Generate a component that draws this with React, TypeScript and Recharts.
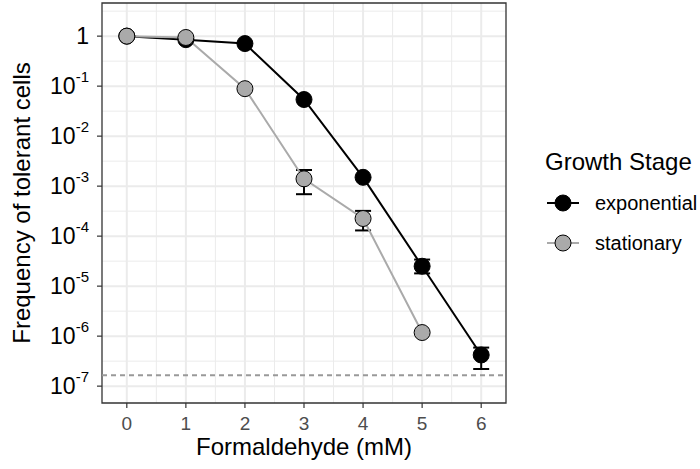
import {
  LineChart,
  Line,
  XAxis,
  YAxis,
  CartesianGrid,
  ReferenceLine,
  ReferenceArea,
  ErrorBar,
} from "recharts";

const doses = [0, 1, 2, 3, 4, 5, 6];

const exponential = [1.0, 0.85, 0.71, 0.054, 1.5e-3, 2.5e-5, 4.2e-7];
const exponentialLow = [null, null, null, null, null, 1.8e-5, 2.2e-7];
const exponentialHigh = [null, null, null, null, null, 3.4e-5, 5.9e-7];

const stationary = [1.0, 0.94, 0.089, 1.4e-3, 2.25e-4, 1.18e-6, null];
const stationaryLow = [null, null, null, 6.9e-4, 1.3e-4, null, null];
const stationaryHigh = [null, null, null, 2.1e-3, 3.2e-4, null, null];

const yMajor = [1, 1e-1, 1e-2, 1e-3, 1e-4, 1e-5, 1e-6, 1e-7];
const yMinor = [3.16, 3.16e-1, 3.16e-2, 3.16e-3, 3.16e-4, 3.16e-5, 3.16e-6, 3.16e-7];
const xMinor = [0.5, 1.5, 2.5, 3.5, 4.5, 5.5];
const detectionLimit = 1.66e-7;

const xDomain = [-0.42, 6.42];
const yDomain = [4.6e-8, 4.6];

const FONT = "'Liberation Sans', Arial, Helvetica, sans-serif";

function errPair(v: number | null, lo: number | null, hi: number | null) {
  if (v == null || lo == null || hi == null) return null;
  return [v - lo, hi - v];
}

const chartData = doses.map((d, i) => ({
  dose: d,
  exponential: exponential[i],
  stationary: stationary[i],
  expErr: errPair(exponential[i], exponentialLow[i], exponentialHigh[i]),
  statErr: errPair(stationary[i], stationaryLow[i], stationaryHigh[i]),
}));

function PowerTick({ x, y, payload }: any) {
  const p = Math.round(Math.log10(payload.value));
  if (p === 0) {
    return (
      <text x={x} y={y} dy={8} textAnchor="end" fill="#000" fontSize={23} fontFamily={FONT}>
        1
      </text>
    );
  }
  return (
    <text x={x} y={y} dy={8} textAnchor="end" fill="#000" fontSize={23} fontFamily={FONT}>
      10
      <tspan dy={-12} fontSize={15}>
        {String(p)}
      </tspan>
    </text>
  );
}

function LegendBox() {
  return (
    <svg
      width={170}
      height={140}
      style={{ position: "absolute", left: 530, top: 130, fontFamily: FONT }}
    >
      <text x={15} y={40} fontSize={24} fill="#000">
        Growth Stage
      </text>
      <line x1={17} x2={49} y1={73} y2={73} stroke="#000" strokeWidth={2} />
      <circle cx={33} cy={73} r={8} fill="#000" stroke="#000" />
      <text x={65} y={80} fontSize={20} fill="#000">
        exponential
      </text>
      <line x1={17} x2={49} y1={113} y2={113} stroke="#aaaaaa" strokeWidth={2} />
      <circle cx={33} cy={113} r={8} fill="#aaaaaa" stroke="#000" />
      <text x={65} y={120} fontSize={20} fill="#000">
        stationary
      </text>
    </svg>
  );
}

export default function App() {
  return (
    <div style={{ position: "absolute", left: 0, top: 0, width: 700, height: 469, background: "#fff" }}>
      <LineChart
        width={700}
        height={469}
        data={chartData}
        margin={{ top: 3, right: 194, left: 0, bottom: 0 }}
        style={{ fontFamily: FONT }}
      >
        <CartesianGrid
          stroke="#ebebeb"
          strokeWidth={1}
          horizontalValues={yMinor}
          verticalValues={xMinor}
        />
        <CartesianGrid stroke="#ebebeb" strokeWidth={2} horizontalValues={yMajor} verticalValues={doses} />
        <XAxis
          dataKey="dose"
          type="number"
          domain={xDomain}
          ticks={doses}
          allowDataOverflow
          height={66}
          axisLine={false}
          tickLine={{ stroke: "#333", strokeWidth: 1.2 }}
          tickSize={5}
          tickMargin={9}
          tick={{ fill: "#4d4d4d", fontSize: 19, fontFamily: FONT }}
          label={{
            value: "Formaldehyde (mM)",
            position: "insideBottom",
            offset: 14,
            style: { fontSize: 24, fill: "#000", fontFamily: FONT },
          }}
        />
        <YAxis
          type="number"
          scale="log"
          domain={yDomain}
          ticks={yMajor}
          allowDataOverflow
          width={102}
          axisLine={false}
          tickLine={{ stroke: "#333", strokeWidth: 1.2 }}
          tickSize={5}
          tickMargin={8}
          tick={<PowerTick />}
          label={{
            value: "Frequency of tolerant cells",
            angle: -90,
            position: "insideLeft",
            offset: 21,
            style: { fontSize: 24, fill: "#000", textAnchor: "middle", fontFamily: FONT },
          }}
        />
        <ReferenceLine
          y={detectionLimit}
          stroke="#999"
          strokeWidth={2}
          strokeDasharray="5 4"
        />
        <ReferenceArea
          x1={xDomain[0]}
          x2={xDomain[1]}
          y1={yDomain[0]}
          y2={yDomain[1]}
          fill="none"
          stroke="#333"
          strokeWidth={1.3}
          ifOverflow="visible"
        />
        <Line
          dataKey="exponential"
          stroke="#000"
          strokeWidth={2}
          dot={{ r: 8, fill: "#000", stroke: "#000", strokeWidth: 1 }}
          activeDot={false}
          isAnimationActive={false}
        >
          <ErrorBar dataKey="expErr" direction="y" width={8} stroke="#000" strokeWidth={2} />
        </Line>
        <Line
          dataKey="stationary"
          stroke="#aaaaaa"
          strokeWidth={2}
          dot={{ r: 8, fill: "#aaaaaa", stroke: "#000", strokeWidth: 1 }}
          activeDot={false}
          isAnimationActive={false}
        >
          <ErrorBar dataKey="statErr" direction="y" width={8} stroke="#000" strokeWidth={2} />
        </Line>
      </LineChart>
      <LegendBox />
    </div>
  );
}
